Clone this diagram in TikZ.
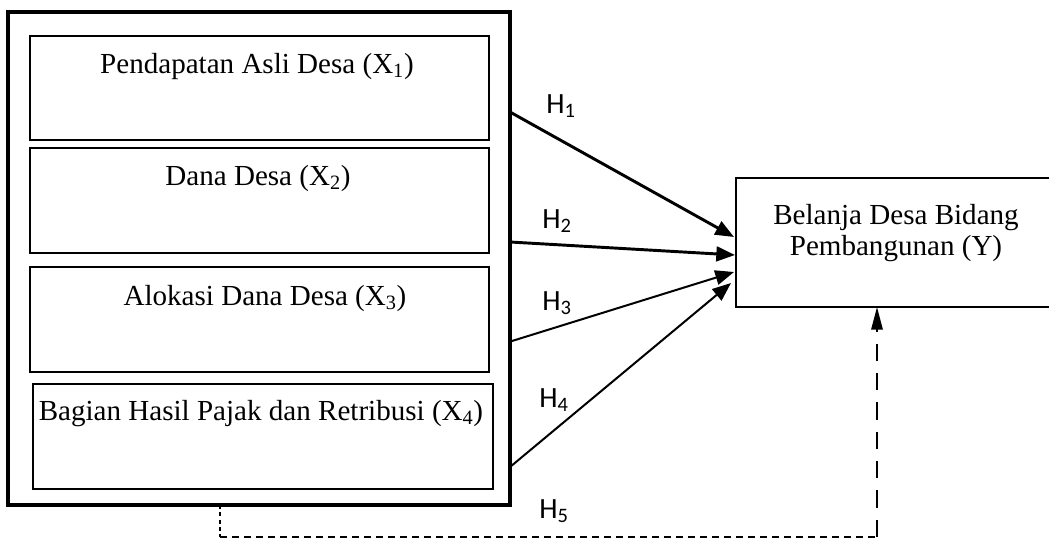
\documentclass[tikz,border=0pt]{standalone}
\usepackage{fontspec}
\setmainfont{Liberation Serif}
\newfontfamily\calib{Carlito}
\usetikzlibrary{arrows.meta,calc}
\begin{document}
\begin{tikzpicture}[x=0.75pt,y=-0.75pt,
  box/.style={draw,rectangle,inner sep=0pt,outer sep=0pt,line width=1.5pt},
  outerbox/.style={draw,rectangle,inner sep=0pt,outer sep=0pt,line width=3pt},
  txt/.style={inner sep=0pt,anchor=base,font=\fontsize{21.8pt}{25pt}\selectfont},
  hlab/.style={inner sep=0pt,anchor=base west,font=\calib\fontsize{22pt}{26pt}\selectfont},
  tip/.style={-{Triangle[length=14pt,width=11pt]}},
  vtip/.style={-{Triangle[length=17pt,width=8.5pt]}},
  thickarrow/.style={tip,line width=2.2pt},
  thinarrow/.style={tip,line width=1.5pt},
  dashshort/.style={line width=1.5pt,dash pattern=on 3pt off 2.5pt},
  dashmid/.style={line width=1.5pt,dash pattern=on 5.5pt off 3.5pt},
  dashlong/.style={line width=1.5pt,dash pattern=on 13pt off 9pt}]
\useasboundingbox (0,0) rectangle (1049,539);
\clip (0,0) rectangle (1049,539);

\node[outerbox,minimum width=376.5pt,minimum height=369.75pt] (outer) at (259,258.5) {};
\node[box,minimum width=344.25pt,minimum height=78pt] (b1) at (259.5,88) {};
\node[box,minimum width=344.25pt,minimum height=78.75pt] (b2) at (259.5,200.5) {};
\node[box,minimum width=344.25pt,minimum height=78.75pt] (b3) at (259.5,319.5) {};
\node[box,minimum width=345pt,minimum height=78.75pt] (b4) at (263,436.5) {};
\node[box,minimum width=243pt,minimum height=96.75pt] (Y) at (898,242.5) {};

\node[txt] (t1) at (257,73) {Pendapatan Asli Desa (X\textsubscript{1})};
\node[txt] (t2) at (258,185) {Dana Desa (X\textsubscript{2})};
\node[txt] (t3) at (265,305) {Alokasi Dana Desa (X\textsubscript{3})};
\node[txt] (t4) at (261,420) {Bagian Hasil Pajak dan Retribusi (X\textsubscript{4})};
\node[txt] (y1) at (896,224) {Belanja Desa Bidang};
\node[txt] (y2) at (896,255) {Pembangunan (Y)};

\draw[thickarrow] (outer.east |- 0,112) -- ($(Y.west |- 0,237)+(-2,0)$);
\draw[thickarrow] (outer.east |- 0,242) -- ($(Y.west |- 0,255)+(-1,0)$);
\draw[thinarrow] ($(outer.east |- 0,341)+(2,0)$) -- ($(Y.west |- 0,272)+(-2,0)$);
\draw[thinarrow] (outer.east |- 0,467) -- ($(Y.west |- 0,283)+(-5,0)$);

\coordinate (c1) at (220,537);
\coordinate (c2) at (877,537);
\draw[dashshort] (outer.south -| c1) -- (c1);
\draw[dashmid] (c1) -- (c2);
\draw[dashlong,vtip] (c2) -- (Y.south -| c2);

\node[hlab] (h1) at (546,113) {H\textsubscript{1}};
\node[hlab] (h2) at (542,228) {H\textsubscript{2}};
\node[hlab] (h3) at (542,310) {H\textsubscript{3}};
\node[hlab] (h4) at (539,407) {H\textsubscript{4}};
\node[hlab] (h5) at (539,518) {H\textsubscript{5}};
\end{tikzpicture}
\end{document}
